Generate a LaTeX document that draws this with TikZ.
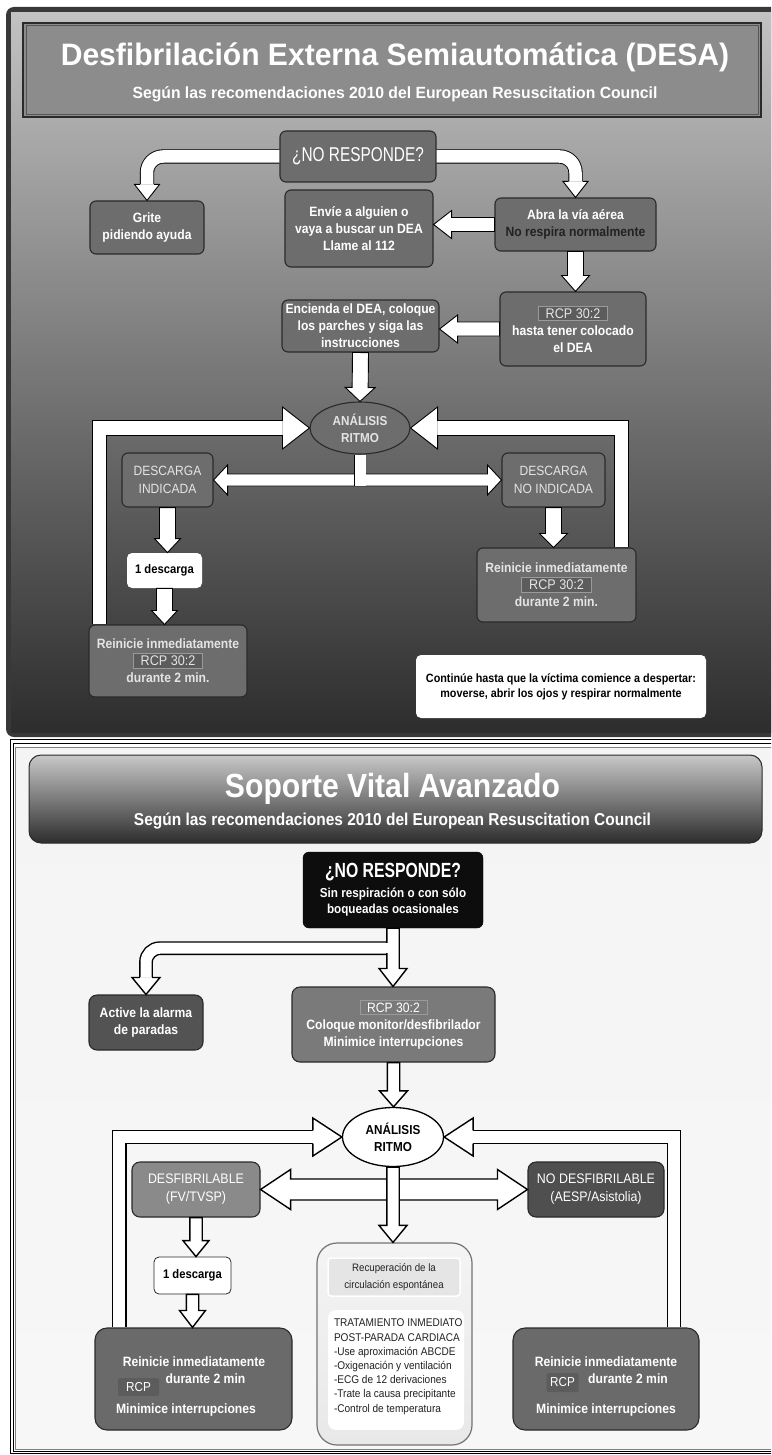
\documentclass[tikz,border=0pt]{standalone}
\usepackage{fontspec}
\setmainfont[FakeStretch=0.9]{Liberation Sans}
\newfontfamily\narrowf[FakeStretch=0.77]{Liberation Sans}
\newfontfamily\ttlf[FakeStretch=0.97]{Liberation Sans}
\usetikzlibrary{calc,shapes.geometric}
\definecolor{frameD}{HTML}{383838}
\definecolor{gtop}{HTML}{C2C2C2}
\definecolor{gbot}{HTML}{2D2D2D}
\definecolor{gfill}{HTML}{6D6D6D}
\definecolor{gline}{HTML}{2A2A2A}
\definecolor{ttlfill}{HTML}{8C8C8C}
\definecolor{rcpfill}{HTML}{5C5C5C}
\definecolor{rcpline}{HTML}{9A9A9A}
\definecolor{lighttxt}{HTML}{E4E4E4}
\definecolor{darktxt}{HTML}{222222}
\definecolor{b2fill}{HTML}{6A6A6A}
\definecolor{rcp2fill}{HTML}{7A7A7A}
\definecolor{desffill}{HTML}{8A8A8A}
\definecolor{ndesffill}{HTML}{4F4F4F}
\definecolor{actfill}{HTML}{535353}
\definecolor{bgA}{HTML}{F4F4F4}
\definecolor{bgB}{HTML}{BEBEBE}
\definecolor{bgC}{HTML}{F7F7F7}
\newcommand\fsz[2]{\fontsize{#1}{#2}\selectfont}
\newcommand\rcpb[1]{{\setlength\fboxsep{2pt}\setlength\fboxrule{0.7pt}\fcolorbox{rcpline}{rcpfill}{\fsz{14}{16}\mdseries\color{lighttxt}\hspace{5pt}#1\hspace{5pt}}}}
\newcommand\rcpc[1]{{\setlength\fboxsep{2pt}\setlength\fboxrule{0.6pt}\fcolorbox{rcpline}{rcp2fill}{\fsz{13.5}{16}\mdseries\color{white}\hspace{5pt}#1\hspace{5pt}}}}
\tikzset{
 hs/.store in=\hs, hw/.store in=\hw, hl/.store in=\hl,
 hs=7pt, hw=14pt, hl=16pt,
 blk/.style={draw=black, fill=white, line width=0.9pt, line join=miter},
 barrow/.style={blk, to path={let \p1=(\tikztostart), \p2=(\tikztotarget), \n1={atan2(\y2-\y1,\x2-\x1)}, \n2={veclen(\x2-\x1,\y2-\y1)} in [shift={(\p1)}, rotate=\n1] (0pt,-\hs) -- ({\n2*1pt-\hl},-\hs) -- ({\n2*1pt-\hl},-\hw) -- ({\n2*1pt},0pt) -- ({\n2*1pt-\hl},\hw) -- ({\n2*1pt-\hl},\hs) -- (0pt,\hs) -- cycle}},
 dbarrow/.style={blk, to path={let \p1=(\tikztostart), \p2=(\tikztotarget), \n1={atan2(\y2-\y1,\x2-\x1)}, \n2={veclen(\x2-\x1,\y2-\y1)} in [shift={(\p1)}, rotate=\n1] (0pt,0pt) -- (\hl,-\hw) -- (\hl,-\hs) -- ({\n2*1pt-\hl},-\hs) -- ({\n2*1pt-\hl},-\hw) -- ({\n2*1pt},0pt) -- ({\n2*1pt-\hl},\hw) -- ({\n2*1pt-\hl},\hs) -- (\hl,\hs) -- (\hl,\hw) -- cycle}},
 bhead/.style={blk, to path={let \p1=(\tikztostart), \p2=(\tikztotarget), \n1={atan2(\y2-\y1,\x2-\x1)}, \n2={veclen(\x2-\x1,\y2-\y1)} in [shift={(\p1)}, rotate=\n1] (0pt,-\hs) -- (0pt,-\hw) -- ({\n2*1pt},0pt) -- (0pt,\hw) -- (0pt,\hs)}},
 dbl/.style={draw=black, double=white, double distance=#1, line width=0.9pt, line join=miter},
 sz/.style 2 args={minimum width=#1, minimum height=#2},
 gbox/.style={draw=gline, line width=1.1pt, rounded corners=6pt, fill=gfill, text=white, font=\fsz{13.5}{17}\bfseries, align=center, inner sep=1pt},
 gbox2/.style={draw=gline, line width=1.1pt, rounded corners=8pt, text=white, font=\fsz{13.5}{17}\bfseries, align=center, inner sep=1pt},
 wbox/.style={draw=gray, line width=0.8pt, rounded corners=5pt, fill=white, text=black, font=\fsz{12.5}{15}\bfseries, align=center, inner sep=1pt},
 wt/.style={text=white, font=\fsz{13.5}{16}\bfseries, inner sep=0pt},
 rcpsm/.style={fill=rcpfill, rounded corners=1.5pt, text=white, font=\fsz{13}{15}, sz={41pt}{18pt}, inner sep=0pt},
}
\begin{document}
\begin{tikzpicture}[x=1pt,y=-1pt]
\useasboundingbox (0,0) rectangle (771,1455);
\clip (0,0) rectangle (771,1455);
\fill[white] (0,0) rectangle (771,1455);
% ================= TOP PANEL =================
\fill[frameD, rounded corners=8pt] (6,7) rectangle (800,737);
\shade[top color=gtop, bottom color=gbot] (11,13) rectangle (795,732);
\node[draw=gline, line width=1.4pt, fill=ttlfill, sz={738pt}{94pt}] (t1) at (392,70) {};
\draw[gline!80, line width=0.6pt] ($(t1.north west)+(3.5,3.5)$) rectangle ($(t1.south east)+(-3.5,-3.5)$);
\node[text=white, font=\ttlf\fsz{31}{36}\bfseries, inner sep=0pt] (t1a) at ($(t1.center)+(3,-13)$) {Desfibrilación Externa Semiautomática (DESA)};
\node[text=white, font=\ttlf\fsz{16.2}{18}\bfseries, inner sep=0pt] (t1b) at ($(t1.center)+(3,24)$) {Según las recomendaciones 2010 del European Resuscitation Council};

\node[gbox, sz={156pt}{51pt}, font=\narrowf\fsz{20}{22}] (nr1) at (358,156.5) {¿NO RESPONDE?};
\node[gbox, sz={114pt}{53pt}] (grite) at (147,227.5) {Grite\\pidiendo ayuda};
\node[gbox, sz={148pt}{77pt}] (envie) at (359,228.5) {Envíe a alguien o\\vaya a buscar un DEA\\Llame al 112};
\node[gbox, sz={161pt}{53pt}] (abra) at (575.5,224.5) {Abra la vía aérea\\\phantom{No respira normalmente}};
\node[text=darktxt, font=\fsz{13.5}{17}\bfseries, inner sep=0pt] (abra2) at ($(abra.center)+(0,9)$) {No respira normalmente};
\node[gbox, sz={146pt}{74pt}] (rcp1) at (573,329) {\rcpb{RCP 30:2}\\hasta tener colocado\\el DEA};
\node[gbox, sz={157pt}{52pt}] (enc) at (360.5,326) {Encienda el DEA, coloque\\los parches y siga las\\instrucciones};
\node[gbox, ellipse, sz={100pt}{52pt}, inner sep=0pt, text=lighttxt, font=\fsz{13}{17}\bfseries] (an1) at (360,428) {ANÁLISIS\\RITMO};
\node[gbox, sz={91pt}{54pt}, font=\fsz{13.4}{18}, text=lighttxt] (di) at (167.5,480) {DESCARGA\\INDICADA};
\node[gbox, sz={103pt}{54pt}, font=\fsz{13.4}{18}, text=lighttxt] (dni) at (553.5,480) {DESCARGA\\NO INDICADA};
\node[wbox, draw=none, sz={75pt}{35pt}] (d1) at (164.5,570.5) {1 descarga};
\node[gbox, sz={158pt}{72pt}, text=lighttxt] (rl1) at (168,661) {Reinicie inmediatamente\\\rcpb{RCP 30:2}\\durante 2 min.};
\node[gbox, sz={159pt}{74pt}, text=lighttxt] (rr1) at (556.5,585) {Reinicie inmediatamente\\\rcpb{RCP 30:2}\\durante 2 min.};
\node[wbox, draw=none, sz={290pt}{63pt}, font=\fsz{12}{15}\bfseries] (cont) at (561,686.5) {Continúe hasta que la víctima comience a despertar:\\moverse, abrir los ojos y respirar normalmente};

% top arrows
\coordinate (g1) at ($(grite.north)+(0,-16)$);
\draw[dbl=12.5pt, rounded corners=16pt] (nr1.west) -| (g1);
\draw[bhead, hs=7pt, hw=12.5pt] (g1) to (grite.north);
\coordinate (a1) at ($(abra.north)+(0,-16)$);
\draw[dbl=12.5pt, rounded corners=16pt] (nr1.east) -| (a1);
\draw[bhead, hs=7pt, hw=12.5pt] (a1) to (abra.north);
\draw[barrow, hs=7pt, hw=14pt, hl=18pt] (abra.west) to (abra.west -| envie.east);
\draw[barrow, hs=8pt, hw=14pt, hl=16pt] (abra.south) to (abra.south |- rcp1.north);
\draw[barrow, hs=7pt, hw=14pt, hl=18pt] (rcp1.west) to (rcp1.west -| enc.east);
\draw[barrow, hs=8pt, hw=15pt, hl=14pt] (enc.south) to (an1.north);
\draw[dbarrow, hs=6pt, hw=15pt, hl=14pt] (di.east) to (dni.west);
\draw[dbl=11pt] (an1.south) -- ($(an1.south |- di.east)+(0,6)$);
\draw[barrow, hs=8pt, hw=13pt, hl=14pt] (di.south) to (di.south |- d1.north);
\draw[barrow, hs=8pt, hw=13pt, hl=14pt] (d1.south) to (d1.south |- rl1.north);
\draw[barrow, hs=8pt, hw=14pt, hl=14pt] (dni.south) to (dni.south |- rr1.north);
\coordinate (fl0) at ($(rl1.north west)+(11,0)$);
\coordinate (fl1) at ($(an1.west)+(-27,0)$);
\draw[dbl=13.5pt] (fl0) |- (fl1);
\draw[bhead, hs=7.2pt, hw=21pt] (fl1) to (an1.west);
\coordinate (fr0) at ($(rr1.north east)+(-15,0)$);
\coordinate (fr1) at ($(an1.east)+(27,0)$);
\draw[dbl=13.5pt] (fr0) |- (fr1);
\draw[bhead, hs=7.2pt, hw=21pt] (fr1) to (an1.east);

% ================= BOTTOM PANEL =================
\draw[black, line width=1pt] (10,739.5) rectangle (800,1453.5);
\draw[black, line width=0.8pt] (13,743) rectangle (797,1451);
\shade[top color=bgA, middle color=bgB, bottom color=bgC] (15.5,747.5) rectangle (794,1449);
\draw[gray, line width=0.6pt] (15.5,747.5) rectangle (794,1449);
\node[draw=gline, line width=1pt, rounded corners=12pt, top color=gtop!90!white, bottom color=gbot, sz={733pt}{88pt}] (t2) at (395.5,799) {};
\node[text=white, font=\fsz{33.5}{38}\bfseries, inner sep=0pt] (t2a) at ($(t2.center)+(-3,-10)$) {Soporte Vital Avanzado};
\node[text=white, font=\fsz{17.2}{20}\bfseries, inner sep=0pt] (t2b) at ($(t2.center)+(-3,22)$) {Según las recomendaciones 2010 del European Resuscitation Council};

\node[draw=black, fill=black!95, rounded corners=6pt, sz={180pt}{76pt}, text=white, font=\fsz{13}{16.5}\bfseries, align=center, inner sep=1pt] (nr2) at (393,890) {{\narrowf\fsz{20.5}{24}\bfseries ¿NO RESPONDE?}\\[3pt]Sin respiración o con sólo\\boqueadas ocasionales};
\node[gbox2, fill=actfill, sz={114pt}{55pt}] (act) at (146,1022.5) {Active la alarma\\de paradas};
\node[gbox2, fill=rcp2fill, sz={203pt}{75pt}] (rcp2) at (393.5,1024.5) {\rcpc{RCP 30:2}\\Coloque monitor/desfibrilador\\Minimice interrupciones};
\node[draw=black, line width=1.3pt, fill=white, ellipse, sz={101pt}{59pt}, font=\fsz{13}{17}\bfseries, align=center, inner sep=0pt] (an2) at (393,1137) {ANÁLISIS\\RITMO};
\node[gbox2, fill=desffill, sz={128pt}{55pt}, font=\fsz{13.8}{18}] (desf) at (196,1189.5) {DESFIBRILABLE\\(FV/TVSP)};
\node[gbox2, fill=ndesffill, sz={136pt}{55pt}, font=\fsz{13.8}{18}] (ndesf) at (596,1189.5) {NO DESFIBRILABLE\\(AESP/Asistolia)};
\node[wbox, draw=gline, sz={77pt}{37pt}] (d2) at (192.5,1275.5) {1 descarga};
\node[gbox2, fill=b2fill, rounded corners=12pt, sz={197pt}{102pt}] (rl2) at (193.5,1379) {};
\node[gbox2, fill=b2fill, rounded corners=12pt, sz={186pt}{102pt}] (rr2) at (606,1379) {};
\node[wt] (rl2a) at ($(rl2.center)+(0.5,-17)$) {Reinicie inmediatamente};
\node[rcpsm] (rl2b) at ($(rl2.center)+(-55,8)$) {RCP};
\node[wt] (rl2c) at ($(rl2.center)+(12,0)$) {durante 2 min};
\node[wt] (rl2d) at ($(rl2.center)+(-7.5,31)$) {Minimice interrupciones};
\node[wt] (rr2a) at ($(rr2.center)+(0,-17)$) {Reinicie inmediatamente};
\node[rcpsm, sz={32pt}{19pt}] (rr2b) at ($(rr2.center)+(-43.5,3.5)$) {RCP};
\node[wt] (rr2c) at ($(rr2.center)+(22,0)$) {durante 2 min};
\node[wt] (rr2d) at ($(rr2.center)+(0,31)$) {Minimice interrupciones};
\node[draw=gray!90!black, line width=1.2pt, rounded corners=20pt, top color=bgA, bottom color=gray!18, sz={155pt}{202pt}] (rec) at (394.5,1344) {};
\node[draw=white, line width=1.5pt, fill=gray!20, rounded corners=3pt, sz={132pt}{38pt}, font=\fsz{10.8}{17}, text=darktxt, align=center, inner sep=0pt] (rec1) at ($(rec.center)+(-0.5,-67)$) {Recuperación de la\\circulación espontánea};
\node[fill=white, rounded corners=8pt, sz={136pt}{120pt}] (rec2) at ($(rec.center)+(1.5,26)$) {};
\node[anchor=north west, font=\fsz{11.2}{14.2}, text=darktxt, align=left, inner sep=0pt] (rec3) at ($(rec2.north west)+(6,9)$) {TRATAMIENTO INMEDIATO\\POST-PARADA CARDIACA\\-Use aproximación ABCDE\\-Oxigenación y ventilación\\-ECG de 12 derivaciones\\-Trate la causa precipitante\\-Control de temperatura};

% bottom arrows
\coordinate (br0) at ($(nr2.south)+(0,20)$);
\coordinate (br1) at ($(act.north)+(0,-17)$);
\draw[dbl=11pt, line width=1.4pt, rounded corners=14pt] (br0) -| (br1);
\draw[bhead, line width=1.4pt, hs=6.2pt, hw=14pt] (br1) to (act.north);
\draw[barrow, line width=1.4pt, hs=6.2pt, hw=14pt, hl=18pt] (nr2.south) to (nr2.south |- rcp2.north);
\fill[white] ($(br0)+(-7.6,-5.2)$) rectangle ($(br0)+(-5,5.2)$);
\draw[barrow, line width=1.4pt, hs=6.2pt, hw=14pt, hl=16pt] (rcp2.south) to (rcp2.south |- an2.north);
\draw[dbarrow, line width=1.4pt, hs=10.5pt, hw=20pt, hl=30pt] (desf.east) to (ndesf.west);
\draw[barrow, line width=1.4pt, hs=6.2pt, hw=14pt, hl=17pt] (an2.south) to (an2.south |- rec.north);
\draw[barrow, line width=1.4pt, hs=6.2pt, hw=13pt, hl=16pt] (desf.south) to (desf.south |- d2.north);
\draw[barrow, line width=1.4pt, hs=6.2pt, hw=13pt, hl=17pt] (d2.south) to (d2.south |- rl2.north);
\coordinate (gl0) at ($(rl2.north west)+(25,0)$);
\coordinate (gl1) at ($(an2.west)+(-29,0)$);
\draw[dbl=12pt, line width=1.4pt] (gl0) |- (gl1);
\draw[bhead, line width=1.4pt, hs=6.7pt, hw=19pt] (gl1) to (an2.west);
\coordinate (gr0) at ($(rr2.north east)+(-25.5,0)$);
\coordinate (gr1) at ($(an2.east)+(29,0)$);
\draw[dbl=12pt, line width=1.4pt] (gr0) |- (gr1);
\draw[bhead, line width=1.4pt, hs=6.7pt, hw=19pt] (gr1) to (an2.east);
\end{tikzpicture}
\end{document}
